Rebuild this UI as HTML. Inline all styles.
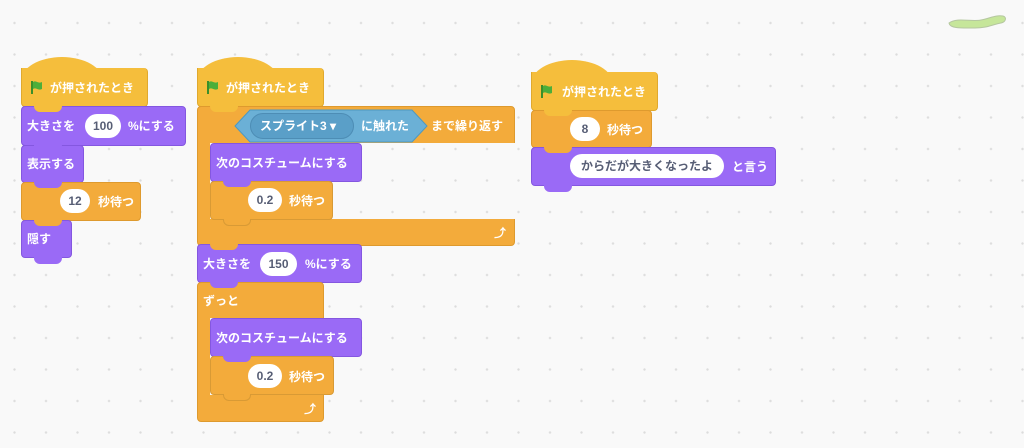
<!DOCTYPE html>
<html><head><meta charset="utf-8"><style>
*{margin:0;padding:0;box-sizing:border-box}
body{width:1024px;height:448px;overflow:hidden;background-color:#f9f9f9;
background-image:radial-gradient(circle,#dcdcdc 1px,transparent 1.3px);
background-size:31.5px 31.5px;background-position:-1.25px 7.25px;position:relative;
font-family:"Liberation Sans","Noto Sans CJK JP",sans-serif;font-weight:bold;font-size:12px;color:#fff}
.b{position:absolute;border-radius:4px}
.y{background:#f5be3c;border:1px solid #e0a92e}
.o{background:#f3ab3b;border:1px solid #de9a2e}
.p{background:#9a6af6;border:1px solid #8457e0}
.t{position:absolute;white-space:nowrap;line-height:14px}
.pill{position:absolute;background:#fff;color:#575e75;border-radius:14px;text-align:center;line-height:24px;height:24px;font-size:12px}
.cap{position:absolute;border-radius:50% 50% 0 0/100% 100% 0 0}
.n{position:absolute;height:7px;width:28px;border-radius:0 0 6px 6px}
.flag{position:absolute;width:14px;height:14px}
</style></head><body>

<!-- Script 1 -->
<div class="cap" style="left:21px;top:57px;width:82px;height:24px;background:#f5be3c"></div>
<div class="b y" style="left:21px;top:68px;width:127px;height:39px;border-radius:0 4px 4px 4px;border-top:none"></div>
<svg class="flag" style="left:30px;top:80px" viewBox="0 0 14 14"><path d="M2 1v13" stroke="#3a8f2a" stroke-width="2"/><path d="M3 2c3-2 5 2 9 0v7c-4 2-6-2-9 0z" fill="#4cae3a"/></svg>
<div class="t" style="left:50px;top:81px">が押されたとき</div>

<div class="b p" style="left:21px;top:106px;width:165px;height:40px"></div>
<div class="n" style="left:34px;top:105px;background:#f5be3c"></div>
<div class="t" style="left:27px;top:119px">大きさを</div>
<div class="pill" style="left:85px;top:114px;width:36px">100</div>
<div class="t" style="left:128px;top:119px">%にする</div>

<div class="b p" style="left:21px;top:145px;width:63px;height:38px"></div>
<div class="n" style="left:34px;top:144px;background:#9a6af6"></div>
<div class="t" style="left:27px;top:157px">表示する</div>

<div class="b o" style="left:21px;top:182px;width:120px;height:39px"></div>
<div class="n" style="left:34px;top:181px;background:#9a6af6"></div>
<div class="pill" style="left:60px;top:189px;width:30px">12</div>
<div class="t" style="left:98px;top:195px">秒待つ</div>

<div class="b p" style="left:21px;top:220px;width:51px;height:38px"></div>
<div class="n" style="left:34px;top:219px;background:#f3ab3b"></div>
<div class="n" style="left:34px;top:257px;background:#9a6af6"></div>
<div class="t" style="left:27px;top:232px">隠す</div>

<!-- Script 2 -->
<div class="cap" style="left:197px;top:57px;width:82px;height:24px;background:#f5be3c"></div>
<div class="b y" style="left:197px;top:68px;width:127px;height:39px;border-radius:0 4px 4px 4px;border-top:none"></div>
<svg class="flag" style="left:206px;top:80px" viewBox="0 0 14 14"><path d="M2 1v13" stroke="#3a8f2a" stroke-width="2"/><path d="M3 2c3-2 5 2 9 0v7c-4 2-6-2-9 0z" fill="#4cae3a"/></svg>
<div class="t" style="left:226px;top:81px">が押されたとき</div>

<div class="b o" style="left:197px;top:106px;width:318px;height:140px"></div>
<div class="n" style="left:210px;top:105px;background:#f5be3c"></div>
<div style="position:absolute;left:210px;top:143px;width:310px;height:76px;background:#f9f9f9;background-image:radial-gradient(circle,#dcdcdc 1px,transparent 1.3px);background-size:31.5px 31.5px;background-position:-211.25px -135.75px"></div>
<svg style="position:absolute;left:234px;top:109px" width="194" height="34"><polygon points="1,17 16,1 178,1 193,17 178,33 16,33" fill="#6bb0d6" stroke="#4d98c0"/></svg>
<div style="position:absolute;left:250px;top:113px;width:104px;height:26px;border-radius:13px;background:#5a9fc8;border:1px solid #4d8db5"></div>
<div class="t" style="left:260px;top:119px">スプライト3 ▾</div>
<div class="t" style="left:361px;top:119px">に触れた</div>
<div class="t" style="left:431px;top:119px">まで繰り返す</div>

<div class="b p" style="left:210px;top:143px;width:152px;height:39px"></div>
<div class="t" style="left:216px;top:156px">次のコスチュームにする</div>
<div class="b o" style="left:210px;top:181px;width:123px;height:39px;border-color:#d89a35"></div>
<div class="n" style="left:223px;top:180px;background:#9a6af6"></div>
<div class="pill" style="left:248px;top:188px;width:34px">0.2</div>
<div class="t" style="left:289px;top:194px">秒待つ</div>
<div class="n" style="left:223px;top:219px;background:#f3ab3b;border:1px solid #d89a35;border-top:none"></div>
<div class="t" style="left:494px;top:226px">⤴</div>

<div class="b p" style="left:197px;top:244px;width:165px;height:39px"></div>
<div class="n" style="left:210px;top:243px;background:#f3ab3b"></div>
<div class="t" style="left:203px;top:257px">大きさを</div>
<div class="pill" style="left:260px;top:252px;width:37px">150</div>
<div class="t" style="left:305px;top:257px">%にする</div>

<div class="b o" style="left:197px;top:282px;width:127px;height:140px"></div>
<div class="n" style="left:210px;top:281px;background:#9a6af6"></div>
<div style="position:absolute;left:210px;top:318px;width:120px;height:77px;background:#f9f9f9;background-image:radial-gradient(circle,#dcdcdc 1px,transparent 1.3px);background-size:31.5px 31.5px;background-position:-211.25px -310.75px"></div>
<div class="t" style="left:203px;top:294px">ずっと</div>
<div class="b p" style="left:210px;top:318px;width:152px;height:39px"></div>
<div class="t" style="left:216px;top:331px">次のコスチュームにする</div>
<div class="b o" style="left:210px;top:356px;width:124px;height:39px;border-color:#d89a35"></div>
<div class="n" style="left:223px;top:355px;background:#9a6af6"></div>
<div class="pill" style="left:248px;top:364px;width:34px">0.2</div>
<div class="t" style="left:289px;top:370px">秒待つ</div>
<div class="n" style="left:223px;top:394px;background:#f3ab3b;border:1px solid #d89a35;border-top:none"></div>
<div class="t" style="left:304px;top:402px">⤴</div>

<!-- Script 3 -->
<div class="cap" style="left:531px;top:60px;width:82px;height:24px;background:#f5be3c"></div>
<div class="b y" style="left:531px;top:72px;width:127px;height:39px;border-radius:0 4px 4px 4px;border-top:none"></div>
<svg class="flag" style="left:540px;top:84px" viewBox="0 0 14 14"><path d="M2 1v13" stroke="#3a8f2a" stroke-width="2"/><path d="M3 2c3-2 5 2 9 0v7c-4 2-6-2-9 0z" fill="#4cae3a"/></svg>
<div class="t" style="left:562px;top:85px">が押されたとき</div>

<div class="b o" style="left:531px;top:110px;width:121px;height:38px"></div>
<div class="n" style="left:544px;top:109px;background:#f5be3c"></div>
<div class="pill" style="left:570px;top:117px;width:30px">8</div>
<div class="t" style="left:607px;top:123px">秒待つ</div>

<div class="b p" style="left:531px;top:147px;width:245px;height:39px"></div>
<div class="n" style="left:544px;top:146px;background:#f3ab3b"></div>
<div class="n" style="left:544px;top:185px;background:#9a6af6"></div>
<div class="pill" style="left:570px;top:154px;width:154px">からだが大きくなったよ</div>
<div class="t" style="left:732px;top:160px">と言う</div>

<!-- worm -->
<svg style="position:absolute;left:945px;top:12px" width="65" height="20"><path d="M4 11c8-6 22-1 32-3s14-5 22-4c4 1 3 6-2 7-10 2-14 5-26 5S5 17 4 11z" fill="#c6e69a" stroke="#b5c7a0"/></svg>
</body></html>
